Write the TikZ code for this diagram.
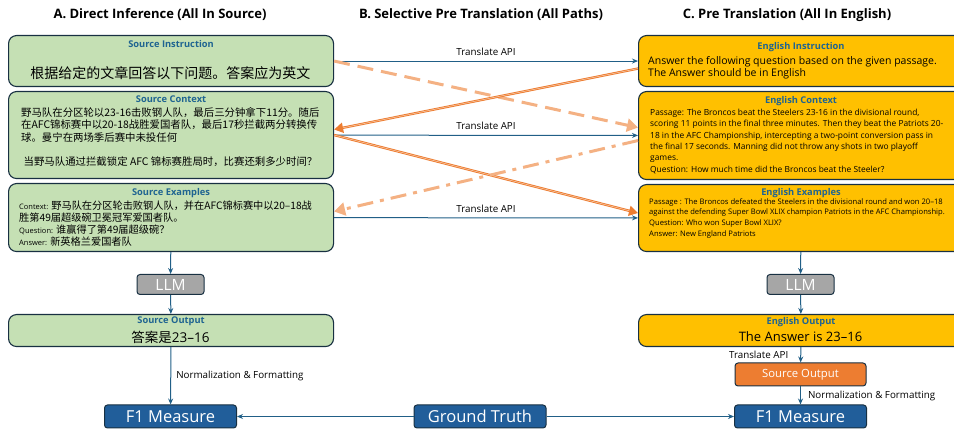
\documentclass[tikz,border=0pt]{standalone}
\usepackage{fontspec}
\setmainfont{Open Sans}
\newfontfamily\cjk{Noto Sans CJK SC}
\usetikzlibrary{arrows.meta,positioning,calc}

\definecolor{srcgreen}{RGB}{197,224,180}
\definecolor{engyellow}{RGB}{255,192,0}
\definecolor{accorange}{RGB}{237,125,49}
\definecolor{lightorange}{RGB}{244,177,131}
\definecolor{edgeblue}{RGB}{24,48,66}
\definecolor{hdrblue}{RGB}{31,100,145}
\definecolor{flowblue}{RGB}{33,95,135}
\definecolor{pillblue}{RGB}{33,94,154}
\definecolor{llmgray}{RGB}{166,166,166}

\newcommand{\fsz}[2]{\fontsize{#1}{#2}\selectfont}
\newcommand{\exlab}[1]{{\rmfamily\fsz{7.5}{12}#1}}

\begin{document}
\begin{tikzpicture}[x=1pt, y=-1pt, >={Stealth[length=6pt,width=5pt]},
  box/.style={draw=edgeblue, line width=1.1pt, rounded corners=8pt, inner sep=0pt,
              anchor=north west, minimum width=325pt},
  greenbox/.style={box, fill=srcgreen},
  yellowbox/.style={box, fill=engyellow},
  hdr/.style={font=\bfseries\fsz{9.3}{11}, text=hdrblue, inner sep=0pt},
  colhead/.style={font=\bfseries\fsz{13}{16}, inner sep=0pt},
  body/.style={inner sep=0pt, align=left, anchor=north west},
  pill/.style={draw=edgeblue, line width=1pt, rounded corners=3pt, text=white,
               inner sep=0pt, minimum width=132pt, minimum height=23pt},
  flow/.style={->, flowblue, line width=1pt},
  lbl/.style={font=\fsz{9.8}{11}, text=black, inner sep=1pt},
  lightdash/.style={lightorange, line width=3pt, dash pattern=on 16pt off 8pt,
                    -{Triangle[length=11pt,width=13pt]}},
  lightdashdot/.style={lightdash, dash pattern=on 16pt off 7pt on 4pt off 7pt},
  orangeln/.style={accorange, line width=2.4pt, -{Triangle[length=9pt,width=10pt]},
                   postaction={draw=lightorange!60!white, line width=0.5pt, -, shorten >=9pt}}]

  \clip (0,0) rectangle (954,430);

  % column headings
  \node[colhead] (headA) at (160,15) {A. Direct Inference (All In Source)};
  \node[colhead] (headB) at (481,15) {B. Selective Pre Translation (All Paths)};
  \node[colhead] (headC) at (787,15) {C. Pre Translation (All In English)};

  % A: source side
  \node[greenbox, minimum height=51pt] (srcins) at (8,35) {};
  \node[hdr, below=5pt of srcins.north] (srcinsT) {Source Instruction};
  \node[font=\cjk\fsz{14}{17}, inner sep=0pt] (srcinsB) at (170.5,73)
        {根据给定的文章回答以下问题。答案应为英文};

  \node[greenbox, minimum height=87pt] (srcctx) at (8,91) {};
  \node[hdr, below=5pt of srcctx.north] (srcctxT) {Source Context};
  \node[body, font=\cjk\fsz{10.4}{12.5}] (srcctxB) at (21,107) {%
    野马队在分区轮以23-16击败钢人队，最后三分钟拿下11分。随后\\
    在AFC锦标赛中以20-18战胜爱国者队，最后17秒拦截两分转换传\\
    球。曼宁在两场季后赛中未投任何};
  \node[font=\cjk\fsz{10.4}{12.5}, inner sep=0pt] (srcctxQ) at (170.5,162)
        {当野马队通过拦截锁定 AFC 锦标赛胜局时，比赛还剩多少时间？};

  \node[greenbox, minimum height=68pt] (srcex) at (8,183) {};
  \node[hdr, below=5pt of srcex.north] (srcexT) {Source Examples};
  \node[body, font=\cjk\fsz{10.2}{12}] (srcexB) at (19,201) {%
    \exlab{Context:} 野马队在分区轮击败钢人队，并在AFC锦标赛中以20–18战\\
    胜第49届超级碗卫冕冠军爱国者队。\\
    \exlab{Question:} 谁赢得了第49届超级碗？\\
    \exlab{Answer:} 新英格兰爱国者队};

  \node[pill, fill=llmgray, minimum width=67pt, minimum height=20pt,
        font=\fsz{15.5}{17}] (llmL) at (170.5,284.5) {LLM};

  \node[greenbox, minimum height=32pt] (srcout) at (8,314) {};
  \node[hdr, below=3pt of srcout.north] (srcoutT) {Source Output};
  \node[font=\fsz{13.5}{16}, inner sep=0pt] (srcoutB) at (170.5,337) {{\cjk 答案是}23–16};

  \node[pill, fill=pillblue, font=\fsz{16.5}{18}] (f1L) at (170.5,416.5) {F1 Measure};
  \node[pill, fill=pillblue, font=\fsz{16.5}{18}] (gt) at (480,416.5) {Ground Truth};

  % C: english side
  \node[yellowbox, minimum height=51pt] (engins) at (638,35) {};
  \node[hdr, below=7pt of engins.north] (enginsT) {English Instruction};
  \node[body, font=\fsz{10.5}{12.3}] (enginsB) at (648,56) {%
    Answer the following question based on the given passage.\\
    The Answer should be in English};

  \node[yellowbox, minimum height=88pt] (engctx) at (638,91) {};
  \node[hdr, below=5pt of engctx.north] (engctxT) {English Context};
  \node[body, font=\fsz{8.4}{11.3}] (engctxB) at (650,109) {%
    Passage: The Broncos beat the Steelers 23-16 in the divisional round,\\
    scoring 11 points in the final three minutes. Then they beat the Patriots 20-\\
    18 in the AFC Championship, intercepting a two-point conversion pass in\\
    the final 17 seconds. Manning did not throw any shots in two playoff\\
    games.\\
    Question: How much time did the Broncos beat the Steeler?};

  \node[yellowbox, minimum height=67pt] (engex) at (638,184) {};
  \node[hdr, below=4pt of engex.north] (engexT) {English Examples};
  \node[body, font=\fsz{7.6}{10.9}] (engexB) at (649,198) {%
    Passage : The Broncos defeated the Steelers in the divisional round and won 20–18\\
    against the defending Super Bowl XLIX champion Patriots in the AFC Championship.\\
    Question: Who won Super Bowl XLIX?\\
    Answer: New England Patriots};

  \node[pill, fill=llmgray, minimum width=67pt, minimum height=20pt,
        font=\fsz{15.5}{17}] (llmR) at (800.5,284.5) {LLM};

  \node[yellowbox, minimum height=32pt] (engout) at (638,314) {};
  \node[hdr, below=3pt of engout.north] (engoutT) {English Output};
  \node[font=\fsz{13}{16}, inner sep=0pt] (engoutB) at (800.5,337) {The Answer is 23–16};

  \node[pill, fill=accorange, minimum width=131pt, font=\fsz{11.3}{13}] (srcoutR)
        at (800.5,374.5) {Source Output};
  \node[pill, fill=pillblue, font=\fsz{16.5}{18}] (f1R) at (800.5,416.5) {F1 Measure};

  % B: translation paths
  \draw[flow] (srcins) -- node[lbl, above=4pt] (tr1) {Translate API} (engins);
  \draw[flow] (srcctx) -- node[lbl, above=4pt] (tr2) {Translate API} (engctx);
  \draw[flow] (srcex) -- node[lbl, above=4pt] (tr3) {Translate API} (engex);

  \draw[lightdash] (srcins.east) -- ($(engctx.west)+(0,-8)$);
  \draw[orangeln] ($(engins.west)+(0,7.5)$) -- ($(srcctx.east)+(0,-5.5)$);
  \draw[orangeln] (srcctx.east) -- ($(engex.west)+(0,-5)$);
  \draw[lightdashdot] ($(engctx.west)+(0,5)$) -- ($(srcex.east)+(0,-6)$);

  % vertical flows
  \draw[flow] (srcex) -- (llmL);
  \draw[flow] (llmL) -- (srcout);
  \draw[flow] (srcout) -- node[lbl, right=4pt] (norm1) {Normalization \& Formatting} (f1L);

  \draw[flow] (engex) -- (llmR);
  \draw[flow] (llmR) -- (engout);
  \draw[flow] (engout) -- node[lbl, left=11pt] (tr4) {Translate API} (srcoutR);
  \draw[flow] (srcoutR) -- node[lbl, right=6pt] (norm2) {Normalization \& Formatting} (f1R);

  \draw[flow] (gt) -- (f1L);
  \draw[flow] (gt) -- (f1R);

\end{tikzpicture}
\end{document}
